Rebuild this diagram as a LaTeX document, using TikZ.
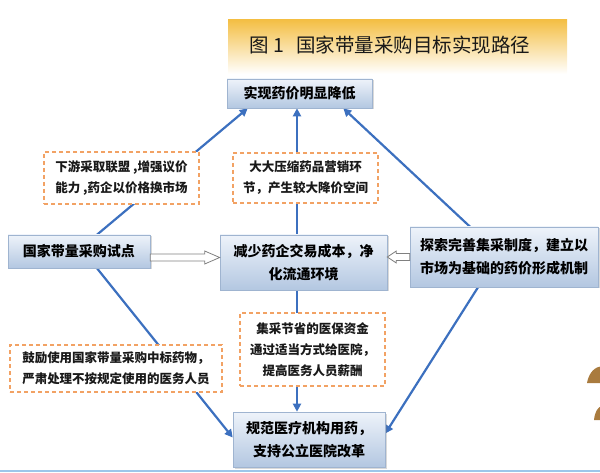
\documentclass[tikz,border=0pt]{standalone}
\usepackage{fontspec}
\setmainfont{Noto Sans CJK SC}
\usetikzlibrary{calc,arrows.meta,shadows}
\pgfdeclarelayer{bg}
\pgfsetlayers{bg,main}
\definecolor{lnblue}{HTML}{3C70BF}
\definecolor{boxtop}{HTML}{EEF3FA}
\definecolor{boxbot}{HTML}{B3C7E1}
\definecolor{boxedge}{HTML}{9FB4D0}
\definecolor{dashor}{HTML}{F2A264}
\definecolor{bannertop}{HTML}{F4BF45}
\definecolor{brownish}{HTML}{A97B3E}
\definecolor{baseblue}{HTML}{9DC6EA}
\tikzset{
  solidbox/.style={draw=boxedge, line width=0.6pt, top color=boxtop, bottom color=boxbot,
    drop shadow={shadow xshift=1.5pt, shadow yshift=-1.5pt, opacity=0.3, fill=gray},
    inner sep=2pt, font=\fontsize{14}{23}\selectfont\bfseries, text=black},
  dashbox/.style={draw=dashor, fill=white, line width=1.3pt, dash pattern=on 4pt off 3pt,
    inner sep=2pt, font=\fontsize{12.5}{21}\selectfont\bfseries, text=black!90},
  conn/.style={draw=lnblue, line width=2.2pt, -{Triangle[length=8pt,width=8pt]}},
  hollow/.style={draw=gray, fill=white, line width=0.8pt},
}
\begin{document}
\begin{tikzpicture}[x=1pt,y=-1pt]
\useasboundingbox (0,0) rectangle (600,473);
% title banner
\path[top color=bannertop, bottom color=white] (228,20) rectangle (567,74);
\node[font=\fontsize{19.5}{22}\selectfont, text=black!90] (title) at (390,45) {图~1\hspace{0.6em}国家带量采购目标实现路径};
% bottom line
\draw[baseblue, line width=2pt] (0,471) -- (600,471);
% decorative shapes
\fill[brownish] (587,383) .. controls (589,372) and (595,367) .. (602,366) -- (602,383) -- cycle;
\fill[brownish] (594,420) .. controls (595,411) and (598,407) .. (602,406) -- (602,420) -- cycle;

% solid boxes
\node[solidbox, minimum width=145pt, minimum height=29pt] (tp) at (299.5,93.5) {实现药价明显降低};
\node[solidbox, minimum width=142pt, minimum height=33pt] (lp) at (79,251.5) {国家带量采购试点};
\node[solidbox, minimum width=167pt, minimum height=55pt, align=center] (cp) at (303.5,262.5) {减少药企交易成本，净\\化流通环境};
\node[solidbox, minimum width=188pt, minimum height=60pt, align=left] (rp) at (504,257) {探索完善集采制度，建立以\\市场为基础的药价形成机制};
\node[solidbox, minimum width=152pt, minimum height=55pt, align=center] (bp) at (309,439.5) {规范医疗机构用药，\\支持公立医院改革};

% dashed boxes
\node[dashbox, minimum width=155pt, minimum height=52pt, align=left] (d1) at (121.5,178) {下游采取联盟 ,增强议价\\能力 ,药企以价格换市场};
\node[dashbox, minimum width=145pt, minimum height=50pt, align=center] (d2) at (305.5,178) {大大压缩药品营销环\\节，产生较大降价空间};
\node[dashbox, minimum width=145pt, minimum height=73pt, align=center] (d3) at (312.5,349.5) {集采节省的医保资金\\通过适当方式给医院，\\提高医务人员薪酬};
\node[dashbox, minimum width=212pt, minimum height=47pt, align=left] (d4) at (116,368.5) {鼓励使用国家带量采购中标药物，\\严肃处理不按规定使用的医务人员};

\coordinate (lpt) at ($(lp.north)+(18,0)$);
\coordinate (lpb) at ($(lp.south)+(18,0)$);
\coordinate (rpt) at ($(rp.north)+(-34,0)$);
\coordinate (rpb) at ($(rp.south)+(-26,0)$);
\coordinate (tpl) at ($(tp.south west)+(21,0)$);
\coordinate (tpr) at ($(tp.south east)+(-29,0)$);
\coordinate (tpm) at ($(tp.south)+(-2.5,0)$);
\coordinate (bpr) at ($(bp.east)+(0,-6)$);
\coordinate (bpl) at ($(bp.west)+(0,-2)$);

% connectors behind boxes
\begin{pgfonlayer}{bg}
\draw[conn] (lpt) -- (tpl);
\draw[conn] (cp.north -| tpm) -- (tpm);
\draw[conn] (rpt) -- (tpr);
\draw[conn] (lpb) -- (bpl);
\draw[conn] (cp.south -| tpm) -- (bp.north -| tpm);
\draw[conn] (rpb) -- (bpr);
\end{pgfonlayer}

% hollow arrows
\path let \p1=($(lp.east)+(0,6)$), \p2=(cp.west) in
  [hollow] (\x1,\y1-3.5pt) -- (\x2-15pt,\y1-3.5pt) -- (\x2-15pt,\y1-6.5pt) -- (\x2,\y1)
  -- (\x2-15pt,\y1+6.5pt) -- (\x2-15pt,\y1+3.5pt) -- (\x1,\y1+3.5pt) -- cycle;
\path let \p1=(rp.west), \p2=(cp.east) in
  [hollow] (\x1,\y1-3.5pt) -- (\x2+9pt,\y1-3.5pt) -- (\x2+9pt,\y1-6pt) -- (\x2,\y1)
  -- (\x2+9pt,\y1+6pt) -- (\x2+9pt,\y1+3.5pt) -- (\x1,\y1+3.5pt) -- cycle;
\end{tikzpicture}
\end{document}
